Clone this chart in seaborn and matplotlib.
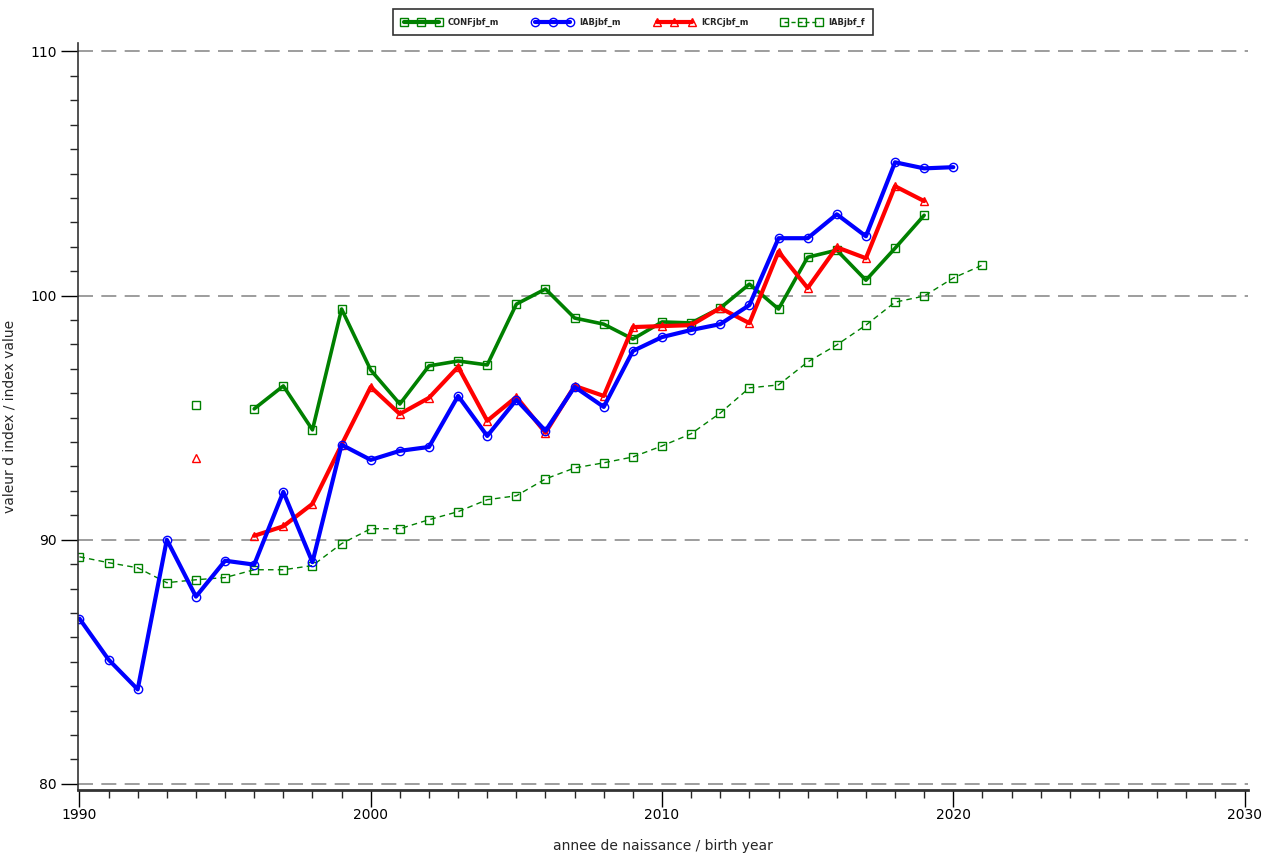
import numpy as np
import pandas as pd
import matplotlib
matplotlib.use("Agg")
import matplotlib.pyplot as plt
from matplotlib.lines import Line2D
from matplotlib.ticker import MultipleLocator
import seaborn as sns

nan = np.nan

# birth years
years = list(range(1990, 2022))

# index values (NaN = no value)
conf_m = [nan, nan, nan, nan, 95.52, nan, 95.36, 96.30, 94.50, 99.45,
          96.95, 95.56, 97.12, 97.32, 97.16, 99.65, 100.27, 99.08, 98.83, 98.22,
          98.92, 98.88, 99.49, 100.47, 99.45, 101.57, 101.86, 100.63, 101.94, 103.29,
          nan, nan]
iab_m = [86.77, 85.09, 83.87, 90.00, 87.67, 89.14, 88.98, 91.96, 89.08, 93.89,
         93.27, 93.64, 93.80, 95.89, 94.25, 95.73, 94.46, 96.26, 95.44, 97.73,
         98.30, 98.59, 98.83, 99.61, 102.35, 102.35, 103.33, 102.43, 105.46, 105.21,
         105.26, nan]
icrc_m = [nan, nan, nan, nan, 93.35, nan, 90.16, 90.55, 91.47, 93.89,
          96.26, 95.15, 95.81, 97.08, 94.87, 95.85, 94.38, 96.30, 95.89, 98.71,
          98.75, 98.79, 99.49, 98.87, 101.80, 100.31, 101.98, 101.53, 104.48, 103.87,
          nan, nan]
iab_f = [89.30, 89.06, 88.85, 88.24, 88.36, 88.45, 88.77, 88.77, 88.94, 89.84,
         90.45, 90.45, 90.82, 91.15, 91.64, 91.80, 92.49, 92.94, 93.15, 93.39,
         93.84, 94.34, 95.19, 96.22, 96.34, 97.28, 97.98, 98.79, 99.73, 99.98,
         100.72, 101.25]

green = "#008000"
blue = "#0000ff"
red = "#ff0000"


def segments(vals):
    # split a series at missing values so each run is drawn on its own
    df = pd.DataFrame({"year": years, "value": vals})
    df["seg"] = df["value"].isna().cumsum()
    return df.dropna()


sns.set_style("white")
plt.rcParams["font.family"] = ["DejaVu Sans"]

fig = plt.figure(figsize=(12.74, 8.58), dpi=100)
ax = fig.add_axes([0.0612, 0.0793, 0.918, 0.8707])

for y in [80, 90, 100, 110]:
    ax.axhline(y, color="#8c8c8c", lw=1.2, ls=(0, (9, 5)), zorder=0)

series = [
    ("IABjbf_f", iab_f, green, "s", 1.0, (0, (4, 3)), 6),
    ("CONFjbf_m", conf_m, green, "s", 2.6, "-", 6),
    ("ICRCjbf_m", icrc_m, red, "^", 3.0, "-", 6),
    ("IABjbf_m", iab_m, blue, "o", 3.0, "-", 6),
]
for name, vals, col, mk, lw, ls, ms in series:
    d = segments(vals)
    sns.lineplot(data=d, x="year", y="value", units="seg", estimator=None,
                 color=col, lw=lw, ls=ls, marker=mk, ms=ms,
                 markerfacecolor="none", markeredgecolor=col, mew=1.0,
                 ax=ax, legend=False)

ax.set_xlim(1989.95, 2030.1)
ax.set_ylim(79.75, 110.35)
ax.xaxis.set_major_locator(MultipleLocator(10))
ax.xaxis.set_minor_locator(MultipleLocator(1))
ax.yaxis.set_major_locator(MultipleLocator(10))
ax.yaxis.set_minor_locator(MultipleLocator(1))
ax.tick_params(which="major", length=12, width=1, direction="out", labelsize=10, colors="black")
ax.tick_params(which="minor", length=6, width=1, direction="out")
ax.tick_params(axis="x", which="major", pad=1)
ax.tick_params(axis="both", which="both", bottom=True, left=True)
for s in ["top", "right"]:
    ax.spines[s].set_visible(False)
ax.spines["left"].set_color("#333333")
ax.spines["bottom"].set_color("#333333")
ax.spines["bottom"].set_linewidth(2)
ax.spines["left"].set_linewidth(1.2)

ax.set_xlabel("annee de naissance / birth year", fontsize=10, labelpad=12)
ax.set_ylabel("valeur d index / index value", fontsize=10, labelpad=10)

handles = [
    Line2D([], [], color=green, lw=3, marker="s", ms=6, mfc="none", mew=1),
    Line2D([], [], color=blue, lw=3, marker="o", ms=6, mfc="none", mew=1),
    Line2D([], [], color=red, lw=3, marker="^", ms=6, mfc="none", mew=1),
    Line2D([], [], color=green, lw=1, ls=(0, (3, 2)), marker="s", ms=6, mfc="none", mew=1),
]
labels = ["CONFjbf_m", "IABjbf_m", "ICRCjbf_m", "IABjbf_f"]
leg = fig.legend(handles, labels, loc="upper center", bbox_to_anchor=(0.497, 0.994),
                 ncol=4, numpoints=3, handlelength=4.8, columnspacing=4.0,
                 prop={"size": 6, "weight": "bold"}, frameon=True, fancybox=False,
                 edgecolor="black", borderpad=1.0)
leg.get_frame().set_linewidth(1.2)

fig.savefig("out.png", dpi=100)
